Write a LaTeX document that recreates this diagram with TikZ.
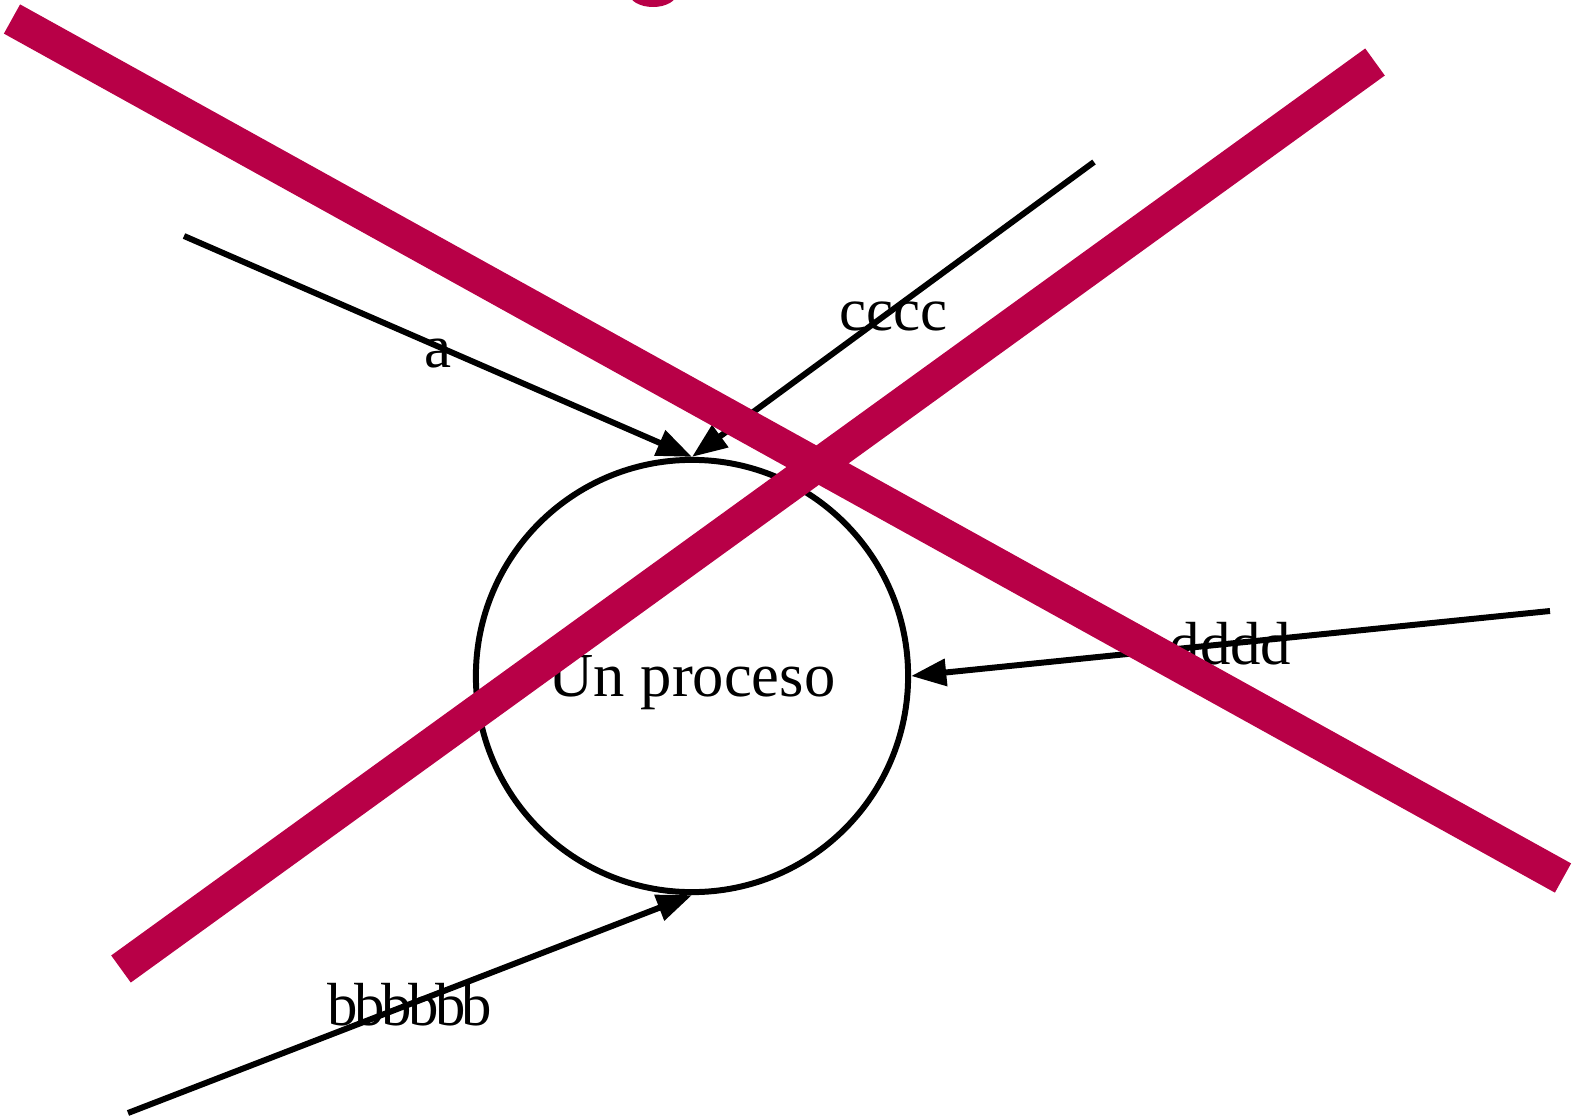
\documentclass[tikz,border=0pt]{standalone}
\usepackage{fontspec}
\setmainfont{Liberation Serif}
\usetikzlibrary{arrows.meta,positioning}
\definecolor{tachado}{RGB}{184,0,71}

\begin{document}
\begin{tikzpicture}[
  x=0.01cm, y=-0.01cm,
  font=\fontsize{17.3pt}{20pt}\selectfont,
  proc/.style={draw, circle, line width=1.7pt, inner sep=0pt, minimum size=4.32cm,
    text depth=0pt, font=\fontsize{17.8pt}{20pt}\selectfont},
  flujo/.style={-{Triangle[length=10pt,width=7.5pt]}, line width=1.7pt},
  etq/.style={text height=12pt, text depth=0pt},
  raya/.style={draw=tachado, line width=9.5pt}
]
\useasboundingbox (0,0) rectangle (1578,1118);
\clip (0,0) rectangle (1578,1118);
\node[proc] (proceso) at (692,676) {Un proceso};
\coordinate (inA) at (184,236);
\coordinate (inB) at (128,1113);
\coordinate (inC) at (1094,162);
\coordinate (inD) at (1550,611);
\draw[flujo] (inA) -- node[etq] {a} (proceso.north);
\draw[flujo] (inC) -- node[etq] {cccc} (proceso.north);
\draw[flujo] (inD) -- node[etq] {dddd} (proceso.east);
\draw[flujo] (inB) -- node[etq] {\addfontfeature{LetterSpace=-6}bbbbbb} (proceso.south);
% tachado
\coordinate (r1a) at (12,19);
\coordinate (r1b) at (1563,878);
\coordinate (r2a) at (1375,62);
\coordinate (r2b) at (121,969);
\draw[raya] (r1a) -- (r1b);
\draw[raya] (r2a) -- (r2b);
\fill[tachado] (653,-7) ellipse [x radius=24, y radius=14];
\end{tikzpicture}
\end{document}
